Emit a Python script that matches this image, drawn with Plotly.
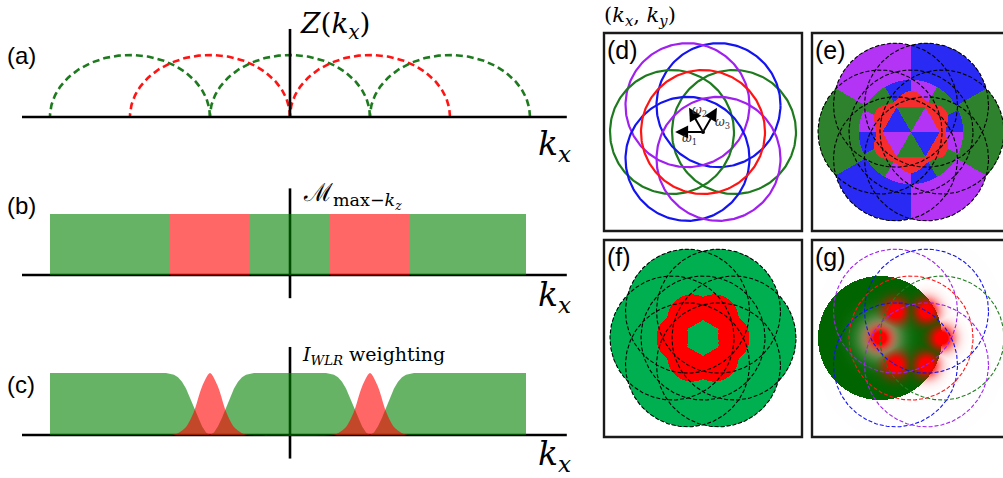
import numpy as np
import plotly.graph_objects as go

W, H = 1003, 478

# ---------------- data: left column (1D cuts along kx) ----------------
# (a) Z(kx): dashed arc components, centres in units of the pattern shift
arc_centers = [-2, -1, 0, 1, 2]
arc_colors = ["green", "red", "green", "red", "green"]

# (b) M_max-kz mask segments
mask_edges = [-3.0, -1.5, -0.5, 0.5, 1.5, 2.95]
mask_colors = ["green", "red", "green", "red", "green"]
mask_values = [1, 1, 1, 1, 1]

# (c) I_WLR weighting
kx_green = [-3.0, -3.0,
            -1.55, -1.5, -1.45, -1.4, -1.35, -1.3, -1.25, -1.2, -1.15, -1.1, -1.05, -1.0,
            -0.95, -0.9, -0.85, -0.8, -0.75, -0.7, -0.65, -0.6, -0.55, -0.5, -0.45,
            0.45, 0.5, 0.55, 0.6, 0.65, 0.7, 0.75, 0.8, 0.85, 0.9, 0.95, 1.0,
            1.05, 1.1, 1.15, 1.2, 1.25, 1.3, 1.35, 1.4, 1.45, 1.5, 1.55,
            2.95, 2.95]
w_green = [0, 1,
           1.0, 0.99, 0.97, 0.93, 0.86, 0.75, 0.6, 0.44, 0.28, 0.14, 0.04, 0.0,
           0.04, 0.14, 0.28, 0.44, 0.6, 0.75, 0.86, 0.93, 0.97, 0.99, 1.0,
           1.0, 0.99, 0.97, 0.93, 0.86, 0.75, 0.6, 0.44, 0.28, 0.14, 0.04, 0.0,
           0.04, 0.14, 0.28, 0.44, 0.6, 0.75, 0.86, 0.93, 0.97, 0.99, 1.0,
           1, 0]
kx_red = [-1.5, -1.4, -1.3, -1.2, -1.1, -1.0, -0.9, -0.8, -0.7, -0.6, -0.5,
          0.5, 0.6, 0.7, 0.8, 0.9, 1.0, 1.1, 1.2, 1.3, 1.4, 1.5]
w_red = [0, 0.03, 0.13, 0.38, 0.78, 1.0, 0.78, 0.38, 0.13, 0.03, 0,
         0, 0.03, 0.13, 0.38, 0.78, 1.0, 0.78, 0.38, 0.13, 0.03, 0]

# ---------------- data: right column (kx, ky) ----------------
shift_angles = [0, 60, 120, 180, 240, 300]
shift_colors = ["green", "blue", "purple", "green", "blue", "purple"]
shift_dist = 0.5
otf_radius = 1.0
center_color = "red"

omega_angles = [180, 120, 60]
omega_labels = ["1", "2", "3"]
omega_len = 0.45

# (e) colouring by angular sectors (degrees) in three radial zones
e_inner_edges = [0, 60, 120, 180, 240, 300, 360]
e_inner_colors = ["purple", "green", "blue", "purple", "green", "blue"]
e_mid_edges = [0, 25, 60, 90, 120, 155, 180, 205, 240, 270, 300, 335, 360]
e_mid_colors = ["blue", "green", "purple", "blue", "green", "purple",
                "blue", "green", "purple", "blue", "green", "purple"]
e_outer_edges = [0, 30, 90, 150, 210, 270, 330, 360]
e_outer_colors = ["green", "blue", "purple", "green", "blue", "purple", "green"]
e_hex_apothem = 0.40
e_red_radius = [0.61, 0.05]
e_mid_radius = 0.84

# (f) red band: inner hexagon, outer lobes
f_hex_apothem = 0.25
f_core_radius = 0.66
f_lobe_dist = 0.35
f_lobe_radius = 0.40

# (g) filled component and peaks
g_disk_angle = 180
g_glow_width = 0.33
g_blob_width = 0.2

# ---------------- styling ----------------
line_col = {"green": "#1e7a1e", "red": "#ff1414", "blue": "#1414f0", "purple": "#a020f0"}
fill_col = {"green": "rgba(0,128,0,0.6)", "red": "rgba(255,0,0,0.6)"}
pal_e = {"purple": (180, 52, 245), "blue": (42, 42, 245), "green": (46, 130, 46), "red": (245, 45, 45)}
pal_f = {"green": (0, 176, 80), "red": (255, 0, 0)}

U_LEFT = 80.0   # px per kx unit, left column
X0_LEFT = 290.0
U_RIGHT = 62.0  # px per unit, right column

fig = go.Figure()
layout = {}


def add_axes(i, xpx, ypx, xr, yr):
    xn = "xaxis" if i == 1 else f"xaxis{i}"
    yn = "yaxis" if i == 1 else f"yaxis{i}"
    layout[xn] = dict(domain=[xpx[0] / W, min(xpx[1] / W, 1.0)], range=xr, visible=False,
                      anchor="y" if i == 1 else f"y{i}", fixedrange=True)
    layout[yn] = dict(domain=[1 - ypx[1] / H, 1 - ypx[0] / H], range=yr, visible=False,
                      anchor="x" if i == 1 else f"x{i}", fixedrange=True)


# left panels: (index, top px, bottom px, baseline px, px per unit)
left_specs = [(1, 0, 160, 117, 62), (2, 160, 320, 275, 61), (3, 320, 478, 435, 62)]
for i, top, bot, base, u in left_specs:
    add_axes(i, (0, 598), (top, bot),
             [(0 - X0_LEFT) / U_LEFT, (598 - X0_LEFT) / U_LEFT],
             [-(bot - base) / u, (base - top) / u])

# right panels: (index, x px, y px, centre px)
right_specs = [(4, (604, 802), (33, 231), (703, 132)),
               (5, (812, 1003), (33, 231), (911, 132)),
               (6, (604, 802), (240, 437), (703, 338)),
               (7, (812, 1003), (240, 437), (911, 338))]
for i, xp, yp, c in right_specs:
    add_axes(i, xp, yp,
             [(xp[0] - c[0]) / U_RIGHT, (xp[1] - c[0]) / U_RIGHT],
             [(c[1] - yp[1]) / U_RIGHT, (c[1] - yp[0]) / U_RIGHT])


def ax(i):
    return ("x", "y") if i == 1 else (f"x{i}", f"y{i}")


shapes = []
# axis lines of the left panels
for i, top, bot, base, u in left_specs:
    xa, ya = ax(i)
    layer = "above" if i == 1 else "below"
    shapes.append(dict(type="line", xref=xa, yref=ya, x0=-3.35, x1=3.46, y0=0, y1=0,
                       line=dict(color="black", width=2.6), layer=layer))
    y_low = 0 if i == 1 else -0.38
    shapes.append(dict(type="line", xref=xa, yref=ya, x0=0, x1=0, y0=y_low, y1=1.42,
                       line=dict(color="black", width=2.6), layer=layer))

# (a) dashed arcs
t = np.linspace(0, np.pi, 120)
for c, col in zip(arc_centers, arc_colors):
    fig.add_trace(go.Scatter(x=c + np.cos(t), y=np.sin(t), mode="lines", xaxis="x", yaxis="y",
                             line=dict(color=line_col[col], width=2.6, dash="7px,4px"),
                             hoverinfo="skip", showlegend=False))

# (b) mask bars
edges = np.array(mask_edges)
fig.add_trace(go.Bar(x=(edges[:-1] + edges[1:]) / 2, y=mask_values, width=np.diff(edges),
                     marker=dict(color=[fill_col[c] for c in mask_colors], line=dict(width=0)),
                     xaxis="x2", yaxis="y2", hoverinfo="skip", showlegend=False))

# (c) weighting curves
fig.add_trace(go.Scatter(x=kx_green, y=w_green, mode="lines", fill="tozeroy",
                         fillcolor=fill_col["green"], line=dict(width=0),
                         xaxis="x3", yaxis="y3", hoverinfo="skip", showlegend=False))
fig.add_trace(go.Scatter(x=kx_red, y=w_red, mode="lines", fill="tozeroy",
                         fillcolor=fill_col["red"], line=dict(width=0, shape="spline", smoothing=0.8),
                         xaxis="x3", yaxis="y3", hoverinfo="skip", showlegend=False))

# ---------------- right column geometry ----------------
centers = [(shift_dist * np.cos(np.radians(a)), shift_dist * np.sin(np.radians(a))) for a in shift_angles]
phi = np.linspace(0, 2 * np.pi, 240)


def circle(cx, cy):
    return cx + otf_radius * np.cos(phi), cy + otf_radius * np.sin(phi)


def grid(i):
    xa = layout["xaxis" if i == 1 else f"xaxis{i}"]
    ya = layout["yaxis" if i == 1 else f"yaxis{i}"]
    nx = int(round((xa["domain"][1] - xa["domain"][0]) * W))
    ny = int(round((ya["domain"][1] - ya["domain"][0]) * H))
    dx = (xa["range"][1] - xa["range"][0]) / nx
    dy = (ya["range"][1] - ya["range"][0]) / ny
    xs = xa["range"][0] + (np.arange(nx) + 0.5) * dx
    ys = ya["range"][1] - (np.arange(ny) + 0.5) * dy  # top row first
    X, Y = np.meshgrid(xs, ys)
    return X, Y, xs[0], dx, ys[0], -dy


def sector_rgb(theta, edges, names, pal):
    idx = np.clip(np.searchsorted(edges, theta, side="right") - 1, 0, len(names) - 1)
    table = np.array([pal[n] for n in names], dtype=float)
    return table[idx]


def add_image(i, rgb, x0, dx, y0, dy):
    xa, ya = ax(i)
    fig.add_trace(go.Image(z=np.clip(rgb, 0, 255).astype(np.uint8).tolist(), x0=x0, dx=dx, y0=y0, dy=dy,
                           xaxis=xa, yaxis=ya, hoverinfo="skip"))


def union_mask(X, Y):
    inside = np.zeros_like(X, dtype=bool)
    for cx, cy in centers:
        inside |= (X - cx) ** 2 + (Y - cy) ** 2 <= otf_radius ** 2
    return inside


# (e) image
X, Y, x0, dx, y0, dy = grid(5)
r = np.hypot(X, Y)
th = np.degrees(np.arctan2(Y, X)) % 360
inside = union_mask(X, Y)
img = np.full(X.shape + (3,), 255.0)
outer = sector_rgb(th, e_outer_edges, e_outer_colors, pal_e)
mid = sector_rgb(th, e_mid_edges, e_mid_colors, pal_e)
inner = sector_rgb(th, e_inner_edges, e_inner_colors, pal_e)
hex_e = r * np.cos(np.radians((th % 60) - 30)) < e_hex_apothem
red_e = r < e_red_radius[0] - e_red_radius[1] * np.cos(np.radians(6 * th))
img[inside] = outer[inside]
m = inside & (r < e_mid_radius)
img[m] = mid[m]
img[red_e] = pal_e["red"]
img[hex_e] = inner[hex_e]
add_image(5, img, x0, dx, y0, dy)

# (f) image
X, Y, x0, dx, y0, dy = grid(6)
r = np.hypot(X, Y)
th = np.degrees(np.arctan2(Y, X)) % 360
inside = union_mask(X, Y)
img = np.full(X.shape + (3,), 255.0)
img[inside] = pal_f["green"]
red_f = r < f_core_radius
for a in shift_angles:
    lx = f_lobe_dist * np.cos(np.radians(a))
    ly = f_lobe_dist * np.sin(np.radians(a))
    red_f |= (X - lx) ** 2 + (Y - ly) ** 2 < f_lobe_radius ** 2
hex_f = r * np.cos(np.radians(((th + 30) % 60) - 30)) < f_hex_apothem
img[red_f & ~hex_f] = pal_f["red"]
add_image(6, img, x0, dx, y0, dy)

# (g) image
X, Y, x0, dx, y0, dy = grid(7)
gcx = shift_dist * np.cos(np.radians(g_disk_angle))
gcy = shift_dist * np.sin(np.radians(g_disk_angle))
dd = np.hypot(X - gcx, Y - gcy)
disk = dd <= otf_radius
glow = 0.85 * np.exp(-(dd / g_glow_width) ** 2)
dark = np.array([0, 100, 0], float)
light = np.array([228, 242, 228], float)
img = np.full(X.shape + (3,), 255.0)
dcol = dark[None, None, :] * (1 - glow[..., None]) + light[None, None, :] * glow[..., None]
img[disk] = dcol[disk]
alpha = np.zeros_like(dd)
for cx, cy in centers:
    alpha = np.maximum(alpha, np.exp(-(((X - cx) ** 2 + (Y - cy) ** 2) / g_blob_width ** 2)))
alpha = np.clip(1.25 * alpha, 0, 1)
redc = np.array([255, 0, 0], float)
img = img * (1 - alpha[..., None]) + redc[None, None, :] * alpha[..., None]
add_image(7, img, x0, dx, y0, dy)

# (d) solid circles
for (cx, cy), col in zip(centers, shift_colors):
    xx, yy = circle(cx, cy)
    fig.add_trace(go.Scatter(x=xx, y=yy, mode="lines", xaxis="x4", yaxis="y4",
                             line=dict(color=line_col[col], width=2.2), hoverinfo="skip", showlegend=False))
xx, yy = circle(0, 0)
fig.add_trace(go.Scatter(x=xx, y=yy, mode="lines", xaxis="x4", yaxis="y4",
                         line=dict(color=line_col[center_color], width=2.2), hoverinfo="skip", showlegend=False))
fig.add_trace(go.Scatter(x=[0], y=[0], mode="markers", xaxis="x4", yaxis="y4",
                         marker=dict(color="black", size=4), hoverinfo="skip", showlegend=False))

# (e), (f) dashed black circles
for i in (5, 6):
    xa, ya = ax(i)
    for cx, cy in centers + [(0.0, 0.0)]:
        xx, yy = circle(cx, cy)
        fig.add_trace(go.Scatter(x=xx, y=yy, mode="lines", xaxis=xa, yaxis=ya,
                                 line=dict(color="black", width=1.1, dash="4px,2px"),
                                 hoverinfo="skip", showlegend=False))

# (g) dashed coloured circles (the filled component is not outlined)
for (cx, cy), col, a in zip(centers, shift_colors, shift_angles):
    if a == g_disk_angle:
        continue
    xx, yy = circle(cx, cy)
    fig.add_trace(go.Scatter(x=xx, y=yy, mode="lines", xaxis="x7", yaxis="y7",
                             line=dict(color=line_col[col], width=1.1, dash="4px,2px"),
                             hoverinfo="skip", showlegend=False))
xx, yy = circle(0, 0)
fig.add_trace(go.Scatter(x=xx, y=yy, mode="lines", xaxis="x7", yaxis="y7",
                         line=dict(color=line_col[center_color], width=1.1, dash="4px,2px"),
                         hoverinfo="skip", showlegend=False))

# panel frames
for xp, yp in [((604, 802), (33, 231)), ((812, 1012), (33, 231)),
               ((604, 802), (240, 437)), ((812, 1012), (240, 437))]:
    shapes.append(dict(type="rect", xref="paper", yref="paper",
                       x0=xp[0] / W, x1=xp[1] / W, y0=1 - yp[1] / H, y1=1 - yp[0] / H,
                       line=dict(color="#1a1a1a", width=2.4), layer="above"))

annotations = []


def txt(s, xpx, ypx, size, family, xanchor="left", color="black"):
    annotations.append(dict(text=s, x=xpx / W, y=1 - ypx / H, xref="paper", yref="paper",
                            showarrow=False, xanchor=xanchor, yanchor="middle",
                            font=dict(size=size, family=family, color=color)))


SANS = "Liberation Sans, Arial, sans-serif"
SERIF = "DejaVu Serif, Liberation Serif, serif"

for lab, y in [("(a)", 56), ("(b)", 205), ("(c)", 384)]:
    txt(lab, 5, y, 24, SANS)
for lab, xy in [("(d)", (605, 50)), ("(e)", (813, 50)), ("(f)", (605, 257)), ("(g)", (813, 257))]:
    txt(lab, xy[0], xy[1], 25, SANS)

for y in (145, 296, 455):
    txt("<i>k</i><sub><i>x</i></sub>", 536, y, 33, SERIF)
txt("<i>Z</i>(<i>k</i><sub><i>x</i></sub>)", 298, 25, 28, SERIF)
txt("ℳ<sub>max−<i>k</i><sub><i>z</i></sub></sub>", 301, 195, 25, SERIF)
txt("<i>I</i><sub><i>WLR</i></sub> weighting", 300, 355, 19, SERIF)
txt("(<i>k</i><sub><i>x</i></sub>, <i>k</i><sub><i>y</i></sub>)", 602, 16, 21, SERIF)

# omega arrows in (d)
for a, lab in zip(omega_angles, omega_labels):
    tx = omega_len * np.cos(np.radians(a))
    ty = omega_len * np.sin(np.radians(a))
    annotations.append(dict(x=tx, y=ty, ax=0, ay=0, xref="x4", yref="y4", axref="x4", ayref="y4",
                            showarrow=True, arrowhead=2, arrowsize=1.3, arrowwidth=2, arrowcolor="black",
                            text=""))
lab_pos = {"1": (-0.22, -0.12), "2": (-0.06, 0.34), "3": (0.31, 0.15)}
for lab in omega_labels:
    lx, ly = lab_pos[lab]
    annotations.append(dict(text=f"<i>ω</i><sub>{lab}</sub>", x=lx, y=ly, xref="x4", yref="y4",
                            showarrow=False, font=dict(size=12, family=SERIF, color="#333333")))

fig.update_layout(width=W, height=H, margin=dict(l=0, r=0, t=0, b=0),
                  paper_bgcolor="white", plot_bgcolor="rgba(0,0,0,0)",
                  showlegend=False, shapes=shapes, annotations=annotations, bargap=0,
                  **layout)

fig.write_html("out.html", config={"displayModeBar": False, "staticPlot": True},
               post_script="document.body.style.margin='0px';")
